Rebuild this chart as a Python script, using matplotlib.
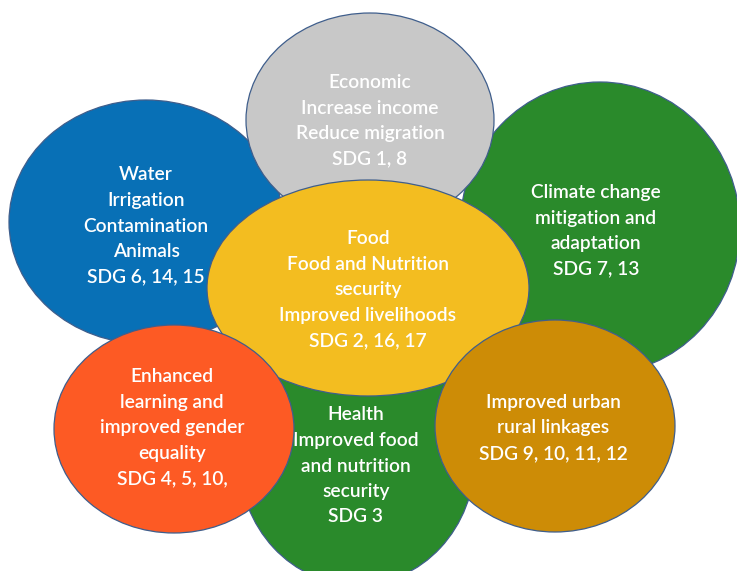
import matplotlib
matplotlib.use("Agg")
import matplotlib.pyplot as plt
from matplotlib.patches import Ellipse

# Bubble contents (drawn in this order, back to front)
names = ["water", "climate", "economic", "health", "food", "learning", "urban"]
labels = [
    ["Water", "Irrigation", "Contamination", "Animals", "SDG 6, 14, 15"],
    ["Climate change", "mitigation and", "adaptation", "SDG 7, 13"],
    ["Economic", "Increase income", "Reduce migration", "SDG 1, 8"],
    ["Health", "Improved food", "and nutrition", "security", "SDG 3"],
    ["Food", "Food and Nutrition", "security", "Improved livelihoods", "SDG 2, 16, 17"],
    ["Enhanced", "learning and", "improved gender", "equality", "SDG 4, 5, 10,"],
    ["Improved urban", "rural linkages", "SDG 9, 10, 11, 12"],
]
colors = ["#0870B6", "#2A8A2B", "#C8C8C8", "#2A8A2B", "#F3BD20", "#FD5A24", "#CD8C06"]

# layout in pixel units: ellipse centre, full width, full height, text centre
ellipses = [
    (146, 222, 274, 244),
    (600, 228, 280, 292),
    (370, 120, 248, 214),
    (357, 458, 236, 254),
    (368, 288, 322, 216),
    (174, 429, 240, 208),
    (555, 426, 240, 212),
]
text_pos = [
    (146, 226), (596, 231), (370, 121), (356, 466),
    (368, 290), (172, 428), (553, 428),
]

W, H = 737, 571
fig = plt.figure(figsize=(W / 100, H / 100), dpi=100)
ax = fig.add_axes([0, 0, 1, 1])
ax.set_xlim(0, W)
ax.set_ylim(H, 0)
ax.axis("off")

line_gap = 25.5
for i, name in enumerate(names):
    cx, cy, w, h = ellipses[i]
    ax.add_patch(Ellipse((cx, cy), w, h, facecolor=colors[i],
                         edgecolor="#3F5E8C", linewidth=0.9, zorder=2 * i))
    tx, ty = text_pos[i]
    lines = labels[i]
    n = len(lines)
    for k, line in enumerate(lines):
        ax.text(tx, ty + (k - (n - 1) / 2) * line_gap, line, color="white",
                fontsize=13.8, fontweight="semibold", family=["Lato", "DejaVu Sans"],
                ha="center", va="center", zorder=2 * i + 1)

fig.savefig("out.png", dpi=100, facecolor="white")
